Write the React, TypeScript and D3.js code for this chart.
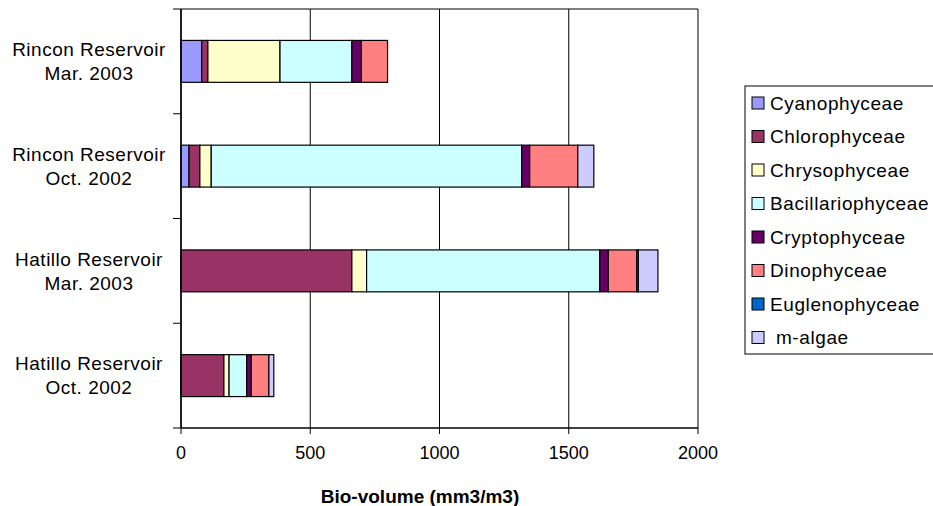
import React from 'react';
import * as d3 from 'd3';

const categories = [
  ['Rincon Reservoir', 'Mar. 2003'],
  ['Rincon Reservoir', 'Oct. 2002'],
  ['Hatillo Reservoir', 'Mar. 2003'],
  ['Hatillo Reservoir', 'Oct. 2002'],
];

const seriesNames = [
  'Cyanophyceae',
  'Chlorophyceae',
  'Chrysophyceae',
  'Bacillariophyceae',
  'Cryptophyceae',
  'Dinophyceae',
  'Euglenophyceae',
  ' m-algae',
];

const cyanophyceae = [80, 31, 0, 0];
const chlorophyceae = [24, 42, 661, 166];
const chrysophyceae = [279, 44, 57, 20];
const bacillariophyceae = [278, 1201, 902, 68];
const cryptophyceae = [37, 31, 33, 18];
const dinophyceae = [101, 186, 110, 68];
const euglenophyceae = [0, 0, 6, 0];
const mAlgae = [0, 62, 76, 19];

const xTicks = [0, 500, 1000, 1500, 2000];

const colors = ['#9999FF', '#993366', '#FFFFCC', '#CCFFFF', '#660066', '#FF8080', '#0066CC', '#CCCCFF'];

const width = 933;
const height = 506;
const plot = { left: 181, right: 698, top: 9, bottom: 428 };
const font = 'Liberation Sans, Arial, sans-serif';

const allSeries = [
  cyanophyceae,
  chlorophyceae,
  chrysophyceae,
  bacillariophyceae,
  cryptophyceae,
  dinophyceae,
  euglenophyceae,
  mAlgae,
];

export default function App() {
  const keys = seriesNames.map((_, i) => `s${i}`);
  const rows = categories.map((c, ci) => {
    const r: Record<string, number | string> = { cat: c.join(' ') };
    allSeries.forEach((s, si) => (r[keys[si]] = s[ci]));
    return r;
  });
  const stacked = d3.stack<any>().keys(keys)(rows);

  const x = d3.scaleLinear().domain([0, 2000]).range([plot.left, plot.right]);
  const y = d3
    .scaleBand<string>()
    .domain(rows.map((r) => r.cat as string))
    .range([plot.top, plot.bottom])
    .padding(0);
  const bw = y.bandwidth();
  const barH = bw * 0.4;

  const legendTop = 86;
  const legendStep = 33.5;

  return (
    <svg
      width={width}
      height={height}
      style={{ position: 'absolute', left: 0, top: 0, background: '#fff' }}
      fontFamily={font}
    >
      <rect x={0} y={0} width={width} height={height} fill="#fff" />
      {/* grid lines and frame */}
      {xTicks.map((t) => (
        <line key={t} x1={x(t)} x2={x(t)} y1={plot.top} y2={plot.bottom} stroke="#000" strokeWidth={1} />
      ))}
      <line x1={plot.left} x2={plot.right} y1={plot.top} y2={plot.top} stroke="#000" strokeWidth={1} />

      {/* bars */}
      {stacked.map((layer, si) =>
        layer.map((d, ci) => {
          const w = x(d[1]) - x(d[0]);
          if (w <= 0) return null;
          return (
            <rect
              key={`${si}-${ci}`}
              x={x(d[0])}
              y={(y(rows[ci].cat as string) ?? 0) + (bw - barH) / 2}
              width={w}
              height={barH}
              fill={colors[si]}
              stroke="#000"
              strokeWidth={1.2}
            />
          );
        })
      )}

      {/* axes */}
      <line x1={plot.left} x2={plot.left} y1={plot.top} y2={plot.bottom} stroke="#000" strokeWidth={1.5} />
      <line x1={plot.left} x2={plot.right} y1={plot.bottom} y2={plot.bottom} stroke="#000" strokeWidth={1.5} />
      {xTicks.map((t) => (
        <g key={`xt${t}`}>
          <line x1={x(t)} x2={x(t)} y1={plot.bottom} y2={plot.bottom + 6} stroke="#000" />
          <text x={x(t)} y={plot.bottom + 25} dy="0.35em" textAnchor="middle" fontSize={18} fill="#000">
            {t}
          </text>
        </g>
      ))}
      {[...rows.map((r) => y(r.cat as string) ?? 0), plot.bottom].map((v, i) => (
        <line key={`yt${i}`} x1={plot.left - 8} x2={plot.left} y1={v} y2={v} stroke="#000" />
      ))}
      {categories.map((c, ci) => {
        const cy = (y(rows[ci].cat as string) ?? 0) + bw / 2;
        return (
          <text key={`cl${ci}`} x={89} textAnchor="middle" fontSize={19} letterSpacing={0.5} fill="#000">
            <tspan x={89} y={cy - 12} dy="0.35em">
              {c[0]}
            </tspan>
            <tspan x={89} y={cy + 12} dy="0.35em">
              {c[1]}
            </tspan>
          </text>
        );
      })}
      <text x={420} y={496} dy="0.35em" textAnchor="middle" fontSize={19} fontWeight="bold" fill="#000">
        Bio-volume (mm3/m3)
      </text>

      {/* legend */}
      <rect x={745} y={legendTop} width={200} height={354 - legendTop} fill="#fff" stroke="#000" strokeWidth={1} />
      {seriesNames.map((n, i) => {
        const cy = legendTop + 17 + i * legendStep;
        return (
          <g key={n}>
            <rect x={752} y={cy - 6} width={12} height={12} fill={colors[i]} stroke="#000" strokeWidth={1} />
            <text
              x={770}
              y={cy}
              dy="0.35em"
              fontSize={19}
              letterSpacing={0.6}
              fill="#000"
              style={{ whiteSpace: 'pre' }}
            >
              {n}
            </text>
          </g>
        );
      })}
    </svg>
  );
}
